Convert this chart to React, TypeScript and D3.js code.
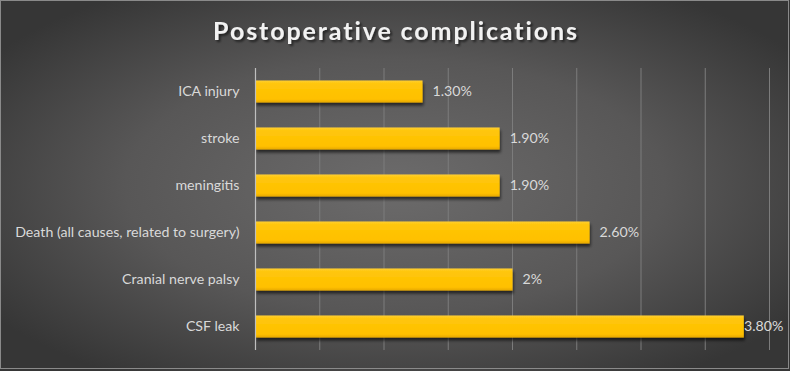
import React from "react";
import * as d3 from "d3";

const width = 790;
const height = 371;
const margin = { top: 68, right: 20.5, bottom: 21, left: 255.5 };

// data, top to bottom as shown
const categories = [
  "ICA injury ",
  "stroke",
  "meningitis",
  "Death (all causes, related to surgery)",
  "Cranial nerve palsy",
  "CSF leak",
];
const values = [1.3, 1.9, 1.9, 2.6, 2.0, 3.8];
const valueLabels = ["1.30%", "1.90%", "1.90%", "2.60%", "2%", "3.80%"];
const xTicks = [0, 0.5, 1, 1.5, 2, 2.5, 3, 3.5, 4];

const font = "Lato, 'Open Sans', sans-serif";

export default function App() {
  const x = d3
    .scaleLinear()
    .domain([0, 4])
    .range([margin.left, width - margin.right]);
  const y = d3
    .scaleBand()
    .domain(categories)
    .range([margin.top, height - margin.bottom])
    .paddingInner(0.53)
    .paddingOuter(0.265);

  return (
    <svg
      width={width}
      height={height}
      style={{ position: "absolute", left: 0, top: 0 }}
    >
      <defs>
        <radialGradient id="bg" cx="50%" cy="50%" r="62%">
          <stop offset="0%" stopColor="#6c6b6b" />
          <stop offset="55%" stopColor="#585757" />
          <stop offset="100%" stopColor="#363636" />
        </radialGradient>
        <linearGradient id="bar" x1="0" y1="0" x2="0" y2="1">
          <stop offset="0%" stopColor="#ffcf33" />
          <stop offset="15%" stopColor="#ffc60a" />
          <stop offset="85%" stopColor="#ffc000" />
          <stop offset="100%" stopColor="#e6a800" />
        </linearGradient>
        <filter id="shadow" x="-5%" y="-20%" width="110%" height="160%">
          <feGaussianBlur in="SourceAlpha" stdDeviation="1.5" />
          <feOffset dx="1" dy="3" result="b" />
          <feComponentTransfer>
            <feFuncA type="linear" slope="0.6" />
          </feComponentTransfer>
          <feMerge>
            <feMergeNode />
            <feMergeNode in="SourceGraphic" />
          </feMerge>
        </filter>
        <filter id="tshadow" x="-5%" y="-30%" width="110%" height="160%">
          <feGaussianBlur in="SourceAlpha" stdDeviation="1.2" />
          <feOffset dx="1.5" dy="2" />
          <feComponentTransfer>
            <feFuncA type="linear" slope="0.55" />
          </feComponentTransfer>
          <feMerge>
            <feMergeNode />
            <feMergeNode in="SourceGraphic" />
          </feMerge>
        </filter>
      </defs>

      <rect x={0} y={0} width={width} height={height} fill="url(#bg)" />
      <rect
        x={0.5}
        y={0.5}
        width={width - 2}
        height={height - 3}
        fill="none"
        stroke="#8a8a8a"
        strokeWidth={1}
      />

      <text
        x={width / 2 + 1}
        y={40}
        textAnchor="middle"
        fill="#f2f2f2"
        fontFamily={font}
        fontWeight={700}
        fontSize={25}
        letterSpacing={1.9}
        filter="url(#tshadow)"
      >
        Postoperative complications
      </text>

      {/* gridlines */}
      {xTicks.slice(1).map((t) => (
        <line
          key={t}
          x1={x(t)}
          x2={x(t)}
          y1={margin.top}
          y2={height - margin.bottom}
          stroke="#7c7c7c"
          strokeWidth={1}
        />
      ))}

      {/* bars */}
      {categories.map((c, i) => (
        <rect
          key={c}
          x={x(0)}
          y={y(c)}
          width={x(values[i]) - x(0)}
          height={y.bandwidth()}
          fill="url(#bar)"
          filter="url(#shadow)"
        />
      ))}

      {/* axis line */}
      <line
        x1={x(0)}
        x2={x(0)}
        y1={margin.top}
        y2={height - margin.bottom}
        stroke="#bfbfbf"
        strokeWidth={1.2}
      />

      {/* category labels */}
      {categories.map((c) => (
        <text
          key={c}
          x={x(0) - 16}
          y={(y(c) ?? 0) + y.bandwidth() / 2}
          dy="0.35em"
          textAnchor="end"
          fill="#d9d9d9"
          fontFamily={font}
          fontSize={14.2}
        >
          {c}
        </text>
      ))}

      {/* value labels */}
      {categories.map((c, i) => {
        const end = x(values[i]);
        const lx = Math.min(end + 10, width - 46);
        return (
          <text
            key={c}
            x={lx}
            y={(y(c) ?? 0) + y.bandwidth() / 2}
            dy="0.35em"
            fill="#d9d9d9"
            fontFamily={font}
            fontSize={14.2}
          >
            {valueLabels[i]}
          </text>
        );
      })}
    </svg>
  );
}
